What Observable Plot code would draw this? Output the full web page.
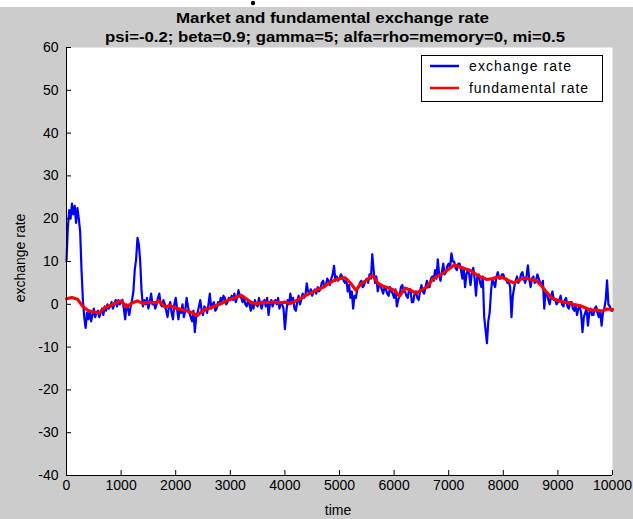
<!DOCTYPE html>
<html>
<head>
<meta charset="utf-8">
<script src="https://cdn.jsdelivr.net/npm/d3@7"></script>
<script src="https://cdn.jsdelivr.net/npm/@observablehq/plot@0.6"></script>
<style>
  html, body { margin: 0; padding: 0; background: #ffffff; }
  #wrap { position: relative; width: 633px; height: 519px; overflow: hidden; }
  #gray { position: absolute; left: 0; top: 7px; width: 633px; height: 512px; background: #cccccc; }
  #plot { position: absolute; left: 0; top: 0; }
  #over { position: absolute; left: 0; top: 0; pointer-events: none; }
</style>
</head>
<body>
<div id="wrap">
  <div id="gray"></div>
  <div id="plot"></div>
  <svg id="over" width="633" height="519"></svg>
</div>
<script>
// ---- Data ----
const titleLine1 = "Market and fundamental exchange rate";
const titleLine2 = "psi=-0.2; beta=0.9; gamma=5; alfa=rho=memory=0, mi=0.5";
const xLabel = "time";
const yLabel = "exchange rate";
const seriesNames = ["exchange rate", "fundamental rate"];
const xTicks = [0, 1000, 2000, 3000, 4000, 5000, 6000, 7000, 8000, 9000, 10000];
const yTicks = [-40, -30, -20, -10, 0, 10, 20, 30, 40, 50, 60];

// exchange rate, sampled every 25 time units (t = 0 ... 10000)
const exchangeStep = 25;
const exchangeRate = [
  10, 18, 22, 20, 23.5, 21, 23, 19, 22.5, 20, 17, 8, 1, -3, -5.5, -2, -3.5, -1.5, -4, -2.5,
  -1, -3, -2, -1.5, -3, -2, -1, -2.5, -0.5, -1.5, 0, -1, -0.5, 0.5, -1, 0, 1, -0.5, 1, 0,
  0.5, 1, -1, -3.5, 0, -1, -2.5, -0.5, 1, 3, 8, 10.5, 15.5, 14, 10, 3, -0.5, 1, 0, 1.5,
  -1, 0.5, 2.5, 0, 0.5, -1, 0, 1.5, 2.5, 0, -0.5, 1, 0, -1.5, -3, -0.5, 0.5, -2, -3.5, 0,
  1.5, -1, -3.5, -1, -2, 0, -3, -1.5, 1.5, -0.5, -2, -3, -4, -1.5, -6.5, -3, -2, -0.5, 1, -1.5,
  -2.5, -0.5, -1, -2, 0, 2.5, -1, 0, 0.5, -1.5, -1, 0.5, 0, 1.5, 0.5, 2, 1.5, 0, 0.5, 1.5,
  1, 2, 1, 2.5, 0.5, 1.5, 3.3, 2, 1.5, 0.5, 1.5, 0, -0.5, 1, 0, -1.5, 0.5, -1, 1, 0,
  -0.5, 1.5, 0, -1, 0.5, 1, -0.5, 1.5, -2.5, 0, 1, -0.5, 0.5, 1, 0, 1.5, -1, 0.5, 0, -1,
  -5.8, -2, 1, 0, 2.5, 0.5, 1.5, -1, -1.5, 0.5, 2, 0, 1, 2.5, 1.5, 2, 4.9, 3, 2.5, 3.5,
  2, 3, 3.5, 2.5, 4, 3, 3.5, 5, 5.5, 4, 4.5, 6, 5.5, 4.5, 6, 7, 9, 5.5, 6.5, 5.5,
  6, 7, 6.5, 5.5, 5, 6, 3, 4.5, 1.5, 3, -1, 2, 1.5, 3.5, 4, 5, 5.5, 4, 4.5, 5.5,
  6, 5, 7, 6, 11.7, 8, 5, 6.5, 3, 4.5, 4.5, 3.5, 2.5, 4, 3.5, 2.5, 2, 4, 3, 2.5,
  1.5, 3.5, -0.5, 1, 2, 4, 4.5, 3, 3, 2, 1.5, 3.5, 3.5, 0.5, 0.5, 2.5, 3, 1.5, 1, 3,
  4.5, 3, 2.5, 4, 5.5, 4, 4, 6, 6.5, 5.5, 8, 6, 10.5, 7, 5.5, 7.5, 9.5, 7, 7.5, 9,
  9.5, 8.5, 11.9, 10, 10, 8.5, 8, 9.5, 9.5, 8, 6, 8.5, 4, 7, 8, 7, 4.5, 7.5, 8.5, 6,
  2, 6.5, 7, 5, 4, 6.5, -3, -6, -9.1, -4, -2, 3, 6, 5, 4, 6.5, 7.5, 6, 6, 7,
  7, 6, 6, 5, 5.5, 4, -3, 2, 4, 5.5, 6.5, 5, 5.5, 7, 7.5, 6, 5, 6.5, 9.1, 6,
  4, 6, 6.5, 5, 5.5, 7, 6, 5, 4.5, 5.5, -1, 3, 2.5, 1, 0, 2, 3, 1, 1, 0,
  0.5, 1, 2, 0, -0.5, 1, 1.5, -0.5, -1, 0.5, 0.5, -1, -1.5, 0, -2.5, -1, -0.5, -2, -6.5, -3,
  -2, -1, -5, -2, -1, -2.5, -2.5, -1, -0.5, -2, -3, -1.5, -5, -2, -1, 1, 5.6, 0, -0.5, -1.5,
  -1.5
];

// fundamental rate, sampled every 100 time units (t = 0 ... 10000)
const fundamentalStep = 100;
const fundamentalRate = [
  1.3, 1.6, 1.2, -0.5, -1.5, -1.8, -2.0, -0.8, -0.3, 0.3,
  0.8, -0.6, 0.3, 0.8, 0.2, 0.5, 0.3, 0.7, -0.6, -0.3,
  -0.9, -1.2, -1.5, -2.0, -2.6, -1.4, -1.0, -0.5, 0.0, 0.6,
  1.2, 1.6, 2.1, 1.2, 0.3, 0.2, 0.5, 0.4, 0.6, 0.3,
  0.5, 0.2, 0.8, 1.5, 2.2, 2.8, 3.5, 4.0, 4.9, 5.6,
  6.0, 6.2, 5.0, 3.3, 4.9, 5.6, 6.8, 5.0, 4.2, 3.8,
  3.3, 1.9, 3.8, 3.3, 2.6, 3.3, 4.0, 5.8, 6.6, 7.3,
  8.2, 9.2, 8.8, 8.3, 7.9, 7.0, 6.3, 5.8, 6.0, 6.4,
  6.2, 5.5, 5.0, 5.8, 6.1, 5.8, 5.6, 4.3, 2.7, 1.4,
  0.9, 0.5, 0.4, -0.1, -0.3, -0.8, -1.4, -1.3, -1.6, -1.1,
  -1.2
];

const exchangeData = exchangeRate.map((v, i) => ({time: i * exchangeStep, value: v}));
const fundamentalData = fundamentalRate.map((v, i) => ({time: i * fundamentalStep, value: v}));

const W = 633, H = 519;
const mL = 66, mR = 21, mT = 47, mB = 44;
const innerW = W - mL - mR, innerH = H - mT - mB;

const chart = Plot.plot({
  width: W,
  height: H,
  marginLeft: mL,
  marginRight: mR,
  marginTop: mT,
  marginBottom: mB,
  style: {background: "transparent", fontFamily: "Arial, 'Liberation Sans', sans-serif", fontSize: "14px", color: "black"},
  x: {domain: [0, 10000], label: null},
  y: {domain: [-40, 60], label: null},
  marks: [
    Plot.frame({fill: "white", stroke: null}),
    Plot.line(exchangeData, {x: "time", y: "value", stroke: "#0000ff", strokeWidth: 2.2}),
    Plot.line(fundamentalData, {x: "time", y: "value", stroke: "#ff0000", strokeWidth: 3.2}),
    Plot.tickY(yTicks, {y: d => d, stroke: "black", strokeWidth: 1, insetRight: innerW - 5}),
    Plot.tickX(xTicks, {x: d => d, stroke: "black", strokeWidth: 1, insetTop: innerH - 5}),
    Plot.ruleX([0], {stroke: "black", strokeWidth: 1}),
    Plot.ruleY([-40], {stroke: "black", strokeWidth: 1}),
    Plot.axisY(yTicks, {tickSize: 0, tickPadding: 8, label: null, fontSize: 14, tickFormat: d => String(d)}),
    Plot.axisX(xTicks, {tickSize: 0, tickPadding: 5, label: null, fontSize: 14, tickFormat: d => String(d)})
  ]
});
document.getElementById("plot").appendChild(chart);

// ---- Overlay: titles, axis labels, legend ----
const over = d3.select("#over");
const font = "Arial, 'Liberation Sans', sans-serif";

over.append("circle").attr("cx", 253).attr("cy", 3).attr("r", 2.2).attr("fill", "black");

over.append("text").attr("x", 176).attr("y", 23)
  .attr("font-family", font).attr("font-size", 15).attr("font-weight", "bold")
  .attr("textLength", 313).attr("lengthAdjust", "spacingAndGlyphs")
  .text(titleLine1);
over.append("text").attr("x", 105).attr("y", 42)
  .attr("font-family", font).attr("font-size", 15).attr("font-weight", "bold")
  .attr("textLength", 460).attr("lengthAdjust", "spacingAndGlyphs")
  .text(titleLine2);

over.append("text").attr("transform", "translate(25,258) rotate(-90)")
  .attr("text-anchor", "middle").attr("font-family", font).attr("font-size", 14)
  .text(yLabel);
over.append("text").attr("x", 338).attr("y", 515)
  .attr("text-anchor", "middle").attr("font-family", font).attr("font-size", 14)
  .text(xLabel);

const lg = over.append("g");
lg.append("rect").attr("x", 421.5).attr("y", 55.5).attr("width", 181).attr("height", 46)
  .attr("fill", "white").attr("stroke", "black").attr("stroke-width", 1);
const legendColors = ["#0000ff", "#ff0000"];
const legendWidths = [102, 119];
seriesNames.forEach((name, i) => {
  const yy = 66 + i * 22;
  lg.append("line").attr("x1", 430).attr("x2", 459).attr("y1", yy).attr("y2", yy)
    .attr("stroke", legendColors[i]).attr("stroke-width", 2.5);
  lg.append("text").attr("x", 469).attr("y", yy + 5)
    .attr("font-family", font).attr("font-size", 14)
    .attr("textLength", legendWidths[i]).attr("lengthAdjust", "spacing")
    .text(name);
});
</script>
</body>
</html>
